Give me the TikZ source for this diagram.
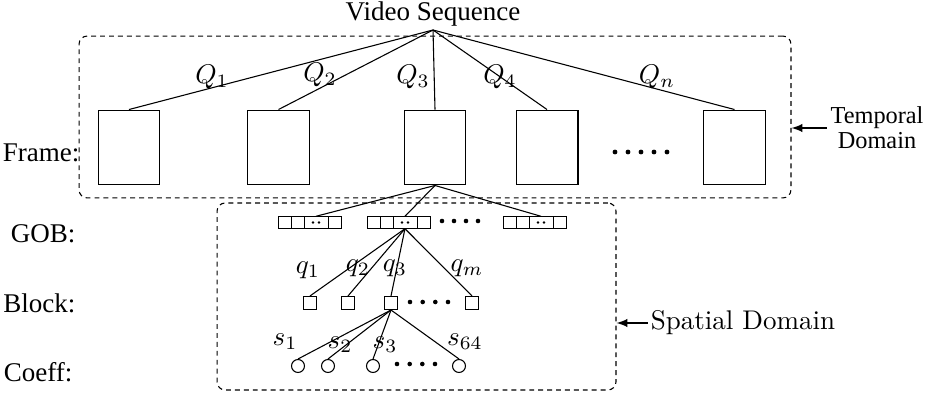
\documentclass[tikz,border=0pt]{standalone}
\usepackage{fontspec}
\usepackage{amsmath}
\usetikzlibrary{positioning, arrows}
\setmainfont{Liberation Serif}
\newfontfamily\lmfont{Latin Modern Roman}
\tikzstyle{frame}=[draw, thin, minimum width=22.9pt, minimum height=27.7pt, inner sep=0pt]
\tikzstyle{cell}=[draw, line width=0.3pt, minimum width=4.8pt, minimum height=4.6pt, inner sep=0pt, outer sep=0pt]
\tikzstyle{wide cell}=[cell, minimum width=8.9pt]
\tikzstyle{block}=[draw, thin, minimum size=4.8pt, inner sep=0pt]
\tikzstyle{coeff}=[draw, thin, circle, minimum size=4.8pt, inner sep=0pt]
\tikzstyle{dombox}=[draw, thin, dash pattern=on 1.8pt off 1.5pt, rounded corners=3pt, inner sep=0pt]
\tikzstyle{level}=[anchor=east, inner sep=0pt]
\tikzstyle{annot}=[inner sep=0pt]

\begin{document}
\begin{tikzpicture}[x=0.37pt, y=-0.37pt, >=latex, thin]
			\useasboundingbox (0,0) rectangle (927,395);

			% Draw the two domains
			\node[dombox, minimum width=263.4pt, minimum height=59.9pt] (temporal) at (435,117) {};
			\node[dombox, minimum width=147.6pt, minimum height=69.2pt] (spatial) at (416.5,296.5) {};

			% Root of the tree
			\node[annot, anchor=south, inner sep=1pt] (video) at (433,30) {Video Sequence};

			% Draw the frames
			\foreach \name / \x in {1/129, 2/278.5, 3/435, 4/547, 5/734.5}
			\node[frame] (F-\name) at (\x,147.5) {};
			\foreach \x in {615,628,641,654,667}
			\fill (\x,152) circle (0.9pt);

			% Connect the root with every frame
			\foreach \name in {1,...,5}
			\draw (video.south) -- (F-\name.north);
			\foreach \name / \lab / \x / \y in {1/Q_1/212/77, 2/Q_2/320/75, 3/Q_3/413/77, 4/Q_4/500/77, 5/Q_n/657/77}
			\node[annot] (Q-\name) at (\x,\y) {$\lab$};

			% Draw the GOBs
			\foreach \g / \x in {1/278, 2/367, 3/503} {
				\node[cell, anchor=west] (G-\g-1) at (\x,222.5) {};
				\node[cell, right=0pt of G-\g-1] (G-\g-2) {};
				\node[wide cell, right=0pt of G-\g-2] (G-\g-3) {};
				\node[cell, right=0pt of G-\g-3] (G-\g-4) {};
				\fill ([xshift=-1.1pt]G-\g-3.center) circle (0.5pt) ([xshift=1.1pt]G-\g-3.center) circle (0.5pt);
			}
			\foreach \x in {442,454,466,478}
			\fill (\x,221) circle (0.85pt);
			\foreach \g in {1,2,3}
			\draw (F-3.south) -- (G-\g-3.north);

			% Draw the blocks
			\foreach \name / \x in {1/310, 2/348, 3/391, 4/472}
			\node[block] (B-\name) at (\x,303) {};
			\foreach \x in {410,422.7,435.3,448}
			\fill (\x,302) circle (0.85pt);
			\foreach \name in {1,...,4}
			\draw (G-2-3.south) -- (B-\name.north);
			\foreach \name / \lab / \x / \y in {1/q_1/308/270, 2/q_2/358/268, 3/q_3/395/268, 4/q_m/467/268}
			\node[annot] (q-\name) at (\x,\y) {$\lab$};

			% Draw the coefficients
			\foreach \name / \x in {1/298, 2/328, 3/373, 4/459}
			\node[coeff] (C-\name) at (\x,366) {};
			\foreach \x in {397,409.7,422.3,435}
			\fill (\x,364) circle (0.85pt);
			\foreach \name in {1,...,4}
			\draw (B-3.south) -- (C-\name.north);
			\foreach \name / \lab / \x / \y in {1/s_1/285/342, 2/s_2/340/345, 3/s_3/385/345, 4/s_{64}/465/342}
			\node[annot] (s-\name) at (\x,\y) {$\lab$};

			% Annotate the levels
			\node[level] (l-frame) at (80,153) {Frame:};
			\node[level] (l-gob) at (76,234) {GOB:};
			\node[level] (l-block) at (76,303) {Block:};
			\node[level] (l-coeff) at (73,372) {Coeff:};

			% Annotate the domains
			\node[annot, align=center, inner sep=1pt, font=\fontsize{9}{9.3}\selectfont] (tdom) at (877,128) {Temporal\\Domain};
			\draw[<-] (tdom.west -| temporal.east) -- (tdom.west);
			\node[annot, inner sep=1pt, font=\lmfont] (sdom) at (743,323) {Spatial Domain};
			\draw[<-] (sdom.west -| spatial.east) -- (sdom.west);
		\end{tikzpicture}
\end{document}
